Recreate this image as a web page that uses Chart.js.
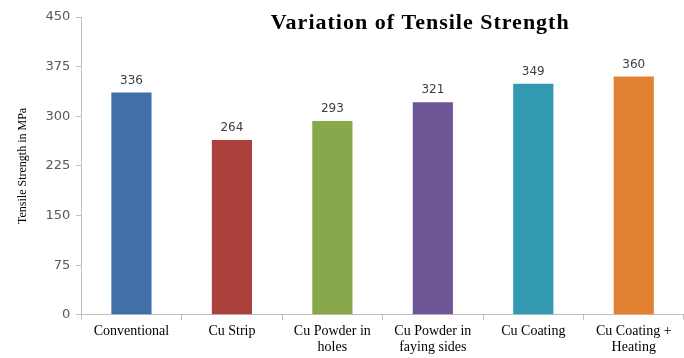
<!DOCTYPE html>
<html>
<head>
<meta charset="utf-8">
<script src="https://cdn.jsdelivr.net/npm/chart.js@4.4.0/dist/chart.umd.min.js"></script>
<style>
  html, body { margin: 0; padding: 0; background: #fff; }
  #wrap { width: 684px; height: 358px; }
</style>
</head>
<body>
<div id="wrap"><canvas id="c"></canvas></div>
<script>
// data
const categories = ['Conventional', 'Cu Strip', ['Cu Powder in', 'holes'], ['Cu Powder in', 'faying sides'], 'Cu Coating', ['Cu Coating +', 'Heating']];
const strength = [336, 264, 293, 321, 349, 360];
const barColors = ['#4170a9', '#ab403d', '#89a84c', '#6e5596', '#3398b1', '#e38133'];
const yTicks = [0, 75, 150, 225, 300, 375, 450];

// value labels above each bar
const valueLabels = {
    id: 'valueLabels',
    afterDatasetsDraw(chart) {
        const ctx = chart.ctx;
        const meta = chart.getDatasetMeta(0);
        ctx.save();
        ctx.font = '12px "DejaVu Sans"';
        ctx.fillStyle = '#404040';
        ctx.textAlign = 'center';
        ctx.textBaseline = 'bottom';
        meta.data.forEach((bar, i) => {
            ctx.fillText(strength[i], bar.x, bar.y - 6);
        });
        ctx.restore();
    }
};

// title sits inside the plot, not above it
const overlayTitle = {
    id: 'overlayTitle',
    afterDraw(chart) {
        const ctx = chart.ctx;
        const area = chart.chartArea;
        ctx.save();
        ctx.font = 'bold 22px "Liberation Serif"';
        ctx.letterSpacing = '1px';
        ctx.fillStyle = '#000';
        ctx.textAlign = 'center';
        ctx.textBaseline = 'middle';
        ctx.fillText('Variation of Tensile Strength', area.left + 339, 23);
        ctx.restore();
    }
};

new Chart(document.getElementById('c'), {
    type: 'bar',
    data: {
        labels: categories,
        datasets: [{
            label: 'Tensile Strength',
            data: strength,
            backgroundColor: barColors,
            barPercentage: 0.4,
            categoryPercentage: 1.0
        }]
    },
    options: {
        responsive: true,
        maintainAspectRatio: false,
        animation: false,
        layout: {
            padding: { top: 17, right: 0, bottom: 0, left: 16 }
        },
        plugins: {
            legend: { display: false },
            tooltip: { enabled: false }
        },
        scales: {
            y: {
                min: 0,
                max: 450,
                afterBuildTicks(axis) {
                    axis.ticks = yTicks.map(v => ({ value: v }));
                },
                border: { color: '#bfbfbf' },
                grid: {
                    drawOnChartArea: false,
                    color: '#bfbfbf',
                    tickLength: 5
                },
                ticks: {
                    color: '#595959',
                    font: { family: 'DejaVu Sans', size: 13 },
                    padding: 6
                },
                title: {
                    display: true,
                    text: 'Tensile Strength in MPa',
                    color: '#000',
                    font: { family: 'Liberation Serif', size: 12 },
                    padding: { top: 0, bottom: 9 }
                }
            },
            x: {
                border: { color: '#bfbfbf' },
                grid: {
                    drawOnChartArea: false,
                    color: '#bfbfbf',
                    tickLength: 5
                },
                ticks: {
                    color: '#000',
                    font: { family: 'Liberation Serif', size: 14, lineHeight: 1.15 },
                    padding: 3,
                    maxRotation: 0,
                    autoSkip: false
                }
            }
        }
    },
    plugins: [valueLabels, overlayTitle]
});
</script>
</body>
</html>
